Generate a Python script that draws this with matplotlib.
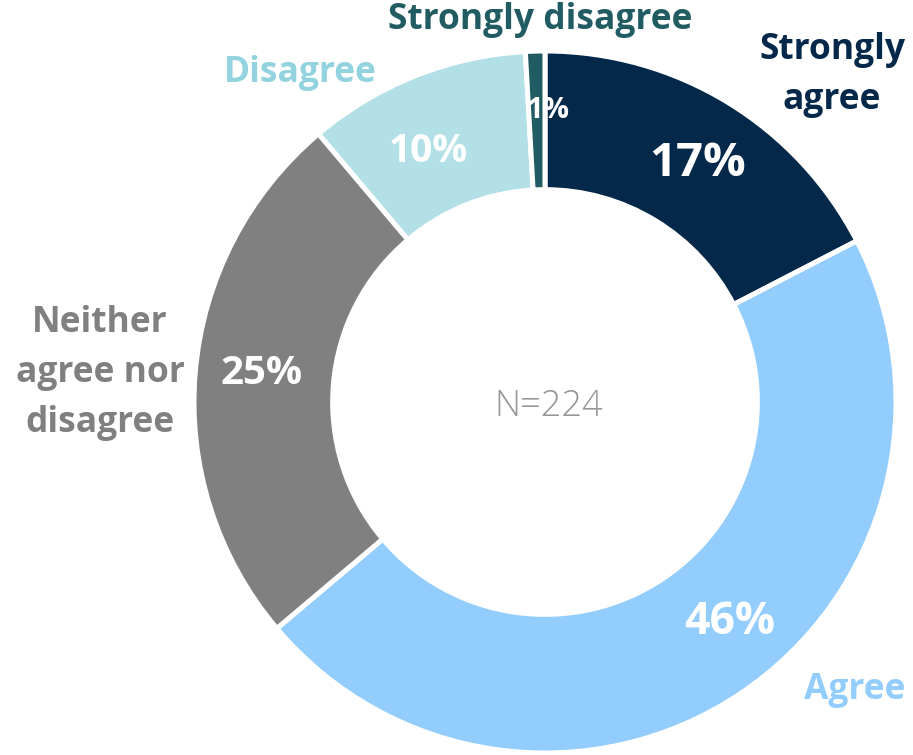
import matplotlib
matplotlib.use("Agg")
import matplotlib.pyplot as plt

# responses out of N=224
categories = ["Strongly agree", "Agree", "Neither agree nor disagree", "Disagree", "Strongly disagree"]
counts = [39, 104, 56, 23, 2]
pct_labels = ["17%", "46%", "25%", "10%", "1%"]
cat_labels = ["Strongly\nagree", "Agree", "Neither\nagree nor\ndisagree", "Disagree", "Strongly disagree"]
total_label = "N=224"

wedge_colors = ["#03284A", "#93CDFE", "#808080", "#B3E0E6", "#215C63"]
label_colors = ["#03284A", "#93CDFE", "#808080", "#92D3DF", "#215C63"]

W, H = 913, 755
fig = plt.figure(figsize=(W / 100, H / 100), dpi=100)
ax = fig.add_axes([0, 0, 1, 1])

cx, cy, R = 545, H - 402, 351
ax.pie(counts, colors=wedge_colors, startangle=90, counterclock=False,
       center=(cx, cy), radius=R, frame=True,
       wedgeprops=dict(width=R * 0.395, edgecolor="white", linewidth=3.6))
ax.set_xlim(0, W)
ax.set_ylim(0, H)
ax.set_aspect("equal")
ax.axis("off")

font = ["Open Sans", "DejaVu Sans"]

# positions in pixels from the top-left corner
pct_pos = [(698, 163), (730, 623), (262, 374), (428, 152), (548, 110)]
pct_size = [34, 32, 29, 28, 21]
for lab, (px, py), fs in zip(pct_labels, pct_pos, pct_size):
    ax.text(px, H - py, lab, ha="center", va="center", color="white",
            fontsize=fs, fontweight="bold", family=font)

cat_pos = [(832, 75), (855, 690), (100, 373), (300, 73), (540, 20)]
for lab, col, (px, py) in zip(cat_labels, label_colors, cat_pos):
    ax.text(px, H - py, lab, ha="center", va="center", color=col,
            fontsize=25.5, fontweight="bold", family=font, linespacing=1.52)

ax.text(cx + 4, H - 407, total_label, ha="center", va="center", color="#969696",
        fontsize=26, fontweight="light", family=font)

fig.savefig("out.png", dpi=100)
